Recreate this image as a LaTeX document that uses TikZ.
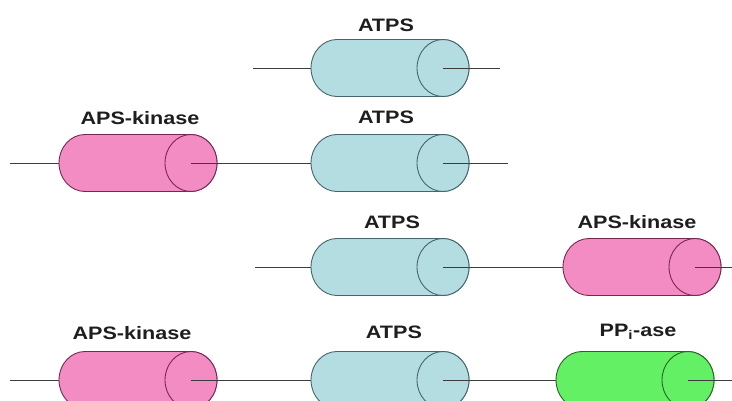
\documentclass[tikz,border=0pt]{standalone}
\usepackage{fontspec}
\newfontfamily\lblfont{Liberation Sans}[FakeStretch=1.2]
\definecolor{atpsfill}{RGB}{180,221,226}
\definecolor{atpsline}{RGB}{70,100,108}
\definecolor{kinfill}{RGB}{244,140,196}
\definecolor{kinline}{RGB}{120,40,80}
\definecolor{pasefill}{RGB}{100,240,100}
\definecolor{paseline}{RGB}{40,100,40}
\definecolor{wirecol}{RGB}{60,60,60}
\definecolor{txtcol}{RGB}{30,30,30}
\tikzset{
  % horizontal cylinder: rounded left end, full ellipse at the right end
  cyl/.pic={
    \path[pic actions] (-53,-28.5) -- (53,-28.5)
      arc[start angle=-90, end angle=90, x radius=26, y radius=28.5]
      -- (-53,28.5)
      arc[start angle=90, end angle=270, x radius=26, y radius=28.5] -- cycle;
    \path[pic actions] (53,0) ellipse[x radius=26, y radius=28.5];
    \coordinate (-l) at (-79,0);
    \coordinate (-c) at (53,0);
  },
  atps/.style={fill=atpsfill, draw=atpsline, line width=0.9pt},
  kin/.style={fill=kinfill, draw=kinline, line width=0.9pt},
  pase/.style={fill=pasefill, draw=paseline, line width=0.9pt},
  lbl/.style={font=\lblfont\bfseries\fontsize{18}{20}\selectfont, text=txtcol, inner sep=0pt},
  wire/.style={draw=wirecol, line width=0.8pt},
}
\begin{document}
\begin{tikzpicture}[x=1pt, y=-1pt]
\useasboundingbox (0,0) rectangle (732,400);
\fill[white] (0,0) rectangle (732,400);

% row 1
\path pic[atps] (r1a) at (390,68) {cyl};
\node[lbl] (t1a) at (386,25) {ATPS};
\coordinate (r1s) at (253,68);
\coordinate (r1e) at (500,68);
\draw[wire] (r1s) -- (r1a-l);
\draw[wire] (r1a-c) -- (r1e);

% row 2
\path pic[kin] (r2k) at (138,163) {cyl};
\path pic[atps] (r2a) at (390,163) {cyl};
\node[lbl] (t2k) at (140,118) {APS-kinase};
\node[lbl] (t2a) at (386,117) {ATPS};
\coordinate (r2s) at (10,163);
\coordinate (r2e) at (508,163);
\draw[wire] (r2s) -- (r2k-l);
\draw[wire] (r2k-c) -- (r2a-l);
\draw[wire] (r2a-c) -- (r2e);

% row 3
\path pic[atps] (r3a) at (390,267) {cyl};
\path pic[kin] (r3k) at (642,267) {cyl};
\node[lbl] (t3a) at (392,222) {ATPS};
\node[lbl] (t3k) at (637,222) {APS-kinase};
\coordinate (r3s) at (255,267);
\coordinate (r3e) at (732,267);
\draw[wire] (r3s) -- (r3a-l);
\draw[wire] (r3a-c) -- (r3k-l);
\draw[wire] (r3k-c) -- (r3e);

% row 4
\path pic[kin] (r4k) at (138,380) {cyl};
\path pic[atps] (r4a) at (390,380) {cyl};
\path pic[pase] (r4p) at (635,380) {cyl};
\node[lbl] (t4k) at (132,333) {APS-kinase};
\node[lbl] (t4a) at (394,332) {ATPS};
\node[lbl] (t4p) at (638,332) {PP\textsubscript{i}-ase};
\coordinate (r4s) at (10,380);
\coordinate (r4e) at (732,380);
\draw[wire] (r4s) -- (r4k-l);
\draw[wire] (r4k-c) -- (r4a-l);
\draw[wire] (r4a-c) -- (r4p-l);
\draw[wire] (r4p-c) -- (r4e);
\end{tikzpicture}
\end{document}
